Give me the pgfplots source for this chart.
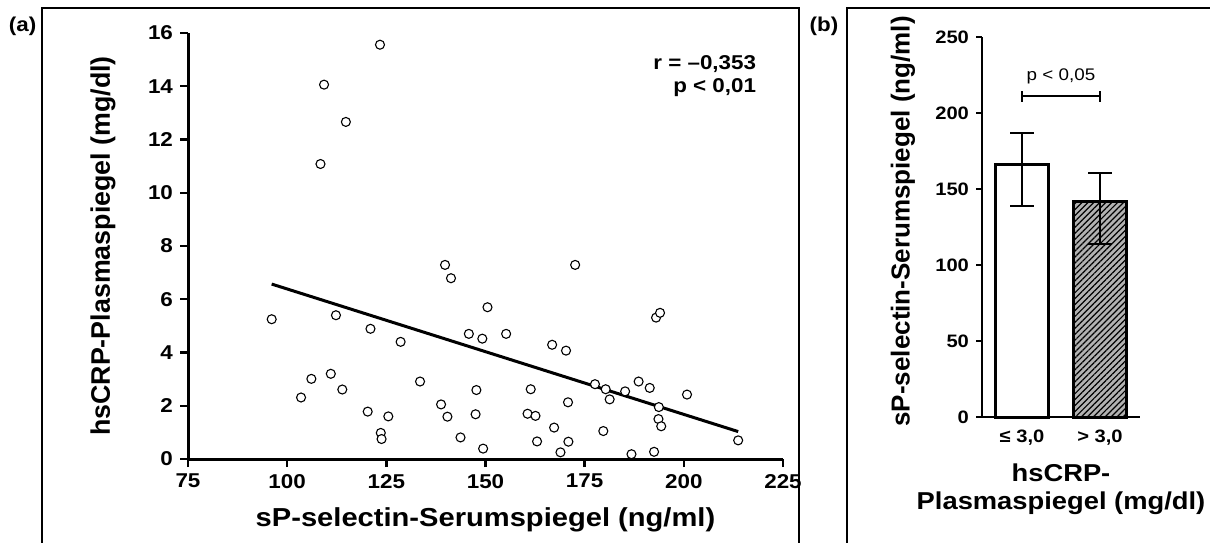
\documentclass[border=0pt]{standalone}
\usepackage{fontspec}
\setmainfont{Liberation Sans}[FakeStretch=1.12]
\newfontfamily\plainfont{Liberation Sans}
\usepackage{pgfplots}
\pgfplotsset{compat=1.18}
\usetikzlibrary{patterns.meta}

\begin{document}
\begin{tikzpicture}
\useasboundingbox (0,0) rectangle (605pt,271pt);
\clip (0,0) rectangle (605pt,271pt);
% panel frames
\draw[line width=0.75pt] (21pt,-5pt) rectangle (399.5pt,267pt);
\draw[line width=0.75pt] (423.4pt,-5pt) rectangle (620pt,267pt);
\node[font=\fontsize{10}{10}\selectfont\bfseries] at (11.3pt,258pt) {(a)};
\node[font=\fontsize{10}{10}\selectfont\bfseries] at (412pt,258pt) {(b)};

% (a) scatter
\begin{axis}[
    scale only axis,
    width=297.5pt, height=213pt,
    at={(94pt,41.5pt)}, anchor=south west,
    xmin=75, xmax=225, ymin=0, ymax=16,
    axis x line*=bottom, axis y line*=left,
    axis line style={line width=1.5pt},
    xtick={75,100,...,225}, ytick={0,2,...,16},
    tick align=outside, major tick length=4pt,
    tick style={line width=1.2pt, black},
    tick label style={font=\fontsize{10}{10}\selectfont\bfseries},
    /pgf/number format/assume math mode=true,
    xlabel={sP-selectin-Serumspiegel (ng/ml)},
    ylabel={hsCRP-Plasmaspiegel (mg/dl)},
    xlabel style={font=\fontsize{13}{13}\selectfont\bfseries,
        at={(axis description cs:0.5,-0.143)}, anchor=center},
    ylabel style={font=\plainfont\fontsize{13.4}{13.4}\selectfont\bfseries,
        at={(axis description cs:-0.143,0.5)}, anchor=center},
    clip=false,
]
\addplot[black, line width=1.5pt] coordinates {(96.1,6.57) (213.7,1.03)};
\addplot[only marks, mark=*, mark size=2.25pt,
    mark options={fill=white, draw=black, line width=0.55pt}] coordinates {
    (123.4,15.56) (109.3,14.06) (114.8,12.66) (108.4,11.08)
    (96.1,5.25) (112.3,5.40) (121.0,4.89) (128.6,4.40)
    (106.1,3.01) (111.0,3.20) (113.9,2.61) (103.5,2.31)
    (120.3,1.78) (125.5,1.60) (123.6,0.98) (123.8,0.75)
    (133.5,2.91) (139.8,7.29) (141.3,6.79) (172.6,7.29)
    (150.5,5.70) (145.8,4.70) (149.2,4.52) (155.2,4.70)
    (166.8,4.29) (170.3,4.07) (193.0,5.31) (194.0,5.49)
    (138.8,2.05) (140.4,1.59) (147.7,2.59) (147.5,1.68)
    (143.7,0.81) (149.4,0.39) (161.4,2.62) (160.6,1.70)
    (162.6,1.62) (163.0,0.66) (167.3,1.18) (170.8,2.13)
    (170.9,0.65) (168.9,0.25) (177.6,2.81) (180.3,2.62)
    (181.3,2.24) (179.7,1.05) (185.2,2.54) (188.6,2.91)
    (191.4,2.67) (186.8,0.18) (192.5,0.27) (193.7,1.95)
    (193.6,1.50) (194.3,1.23) (200.8,2.42) (213.7,0.70)
};
\node[anchor=east, align=right, font=\fontsize{10}{11.5}\selectfont\bfseries]
    at (axis cs:220,14.4) {r = –0,353\\p < 0,01};
\end{axis}

% (b) bars
\begin{axis}[
    scale only axis,
    width=79pt, height=190pt,
    at={(491pt,62.5pt)}, anchor=south west,
    xmin=0.487, xmax=2.513, ymin=0, ymax=250,
    axis x line*=bottom, axis y line*=left,
    axis line style={line width=1.1pt},
    xtick={1,2}, xticklabels={{≤ 3,0},{> 3,0}},
    x tick style={draw=none},
    ytick={0,50,...,250},
    tick align=outside, major tick length=3pt,
    y tick style={line width=1pt, black},
    tick label style={font=\fontsize{9}{9}\selectfont\bfseries},
    /pgf/number format/assume math mode=true,
    ylabel={sP-selectin-Serumspiegel (ng/ml)},
    xlabel={hsCRP-\\Plasmaspiegel (mg/dl)},
    ylabel style={font=\plainfont\fontsize{13}{13}\selectfont\bfseries,
        at={(axis description cs:-0.5,0.515)}, anchor=center},
    xlabel style={font=\fontsize{12.2}{14}\selectfont\bfseries, align=center,
        at={(axis description cs:0.5,-0.19)}, anchor=center},
    clip=false,
]
\addplot[ybar, bar width=0.69, bar shift=0pt, fill=white, draw=black, line width=1.5pt,
    error bars/.cd, y dir=both, y explicit,
    error bar style={line width=1pt, black},
    error mark options={rotate=90, mark size=5.8pt, line width=1pt, black}]
    coordinates {(1,165.8) += (0,20.8) -= (0,26.8)};
\addplot[ybar, bar width=0.69, bar shift=0pt, fill=gray!60, draw=black, line width=1.5pt,
    postaction={pattern={Lines[angle=45, distance=2.1pt, line width=0.6pt]}},
    error bars/.cd, y dir=both, y explicit,
    error bar style={line width=1pt, black},
    error mark options={rotate=90, mark size=5.8pt, line width=1pt, black}]
    coordinates {(2,141.6) += (0,19.1) -= (0,28.0)};
\draw[line width=1pt] (axis cs:1,211) -- (axis cs:2,211);
\draw[line width=1pt] (axis cs:1,207.5) -- (axis cs:1,214.5);
\draw[line width=1pt] (axis cs:2,207.5) -- (axis cs:2,214.5);
\node[font=\fontsize{8.4}{8.4}\selectfont] at (axis cs:1.5,224.3) {p < 0,05};
\end{axis}
\end{tikzpicture}
\end{document}
